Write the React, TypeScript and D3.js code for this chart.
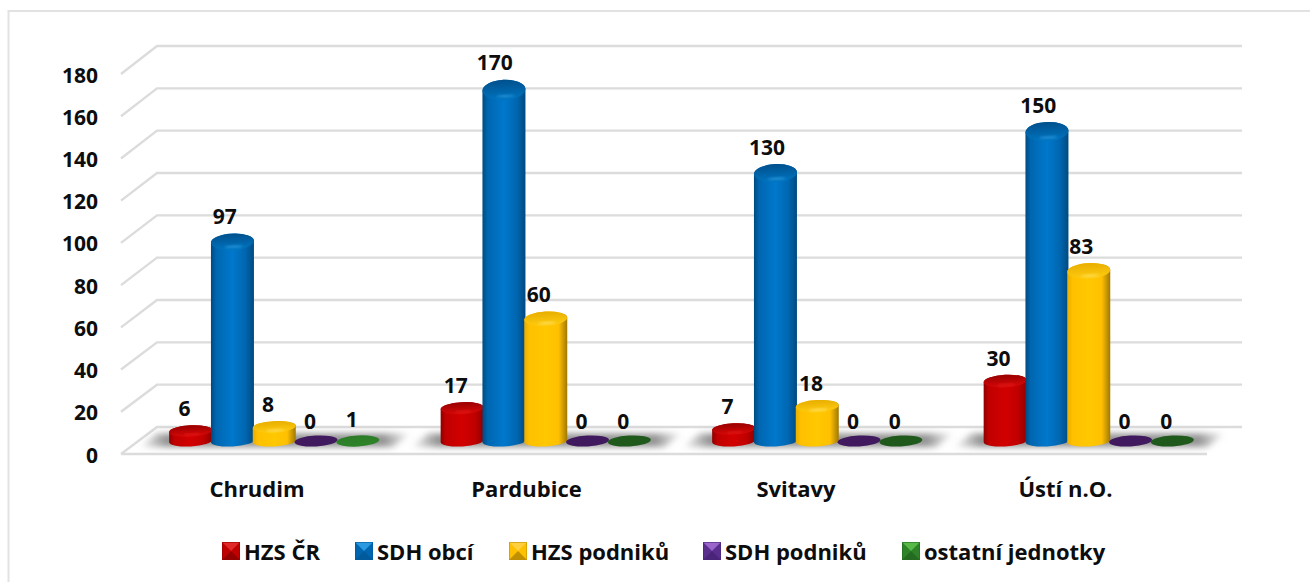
import React from "react";
import * as d3 from "d3";

const categories = ["Chrudim", "Pardubice", "Svitavy", "Ústí n.O."];
const seriesNames = ["HZS ČR", "SDH obcí", "HZS podniků", "SDH podniků", "ostatní jednotky"];
const hzsCr = [6, 17, 7, 30];
const sdhObci = [97, 170, 130, 150];
const hzsPodniku = [8, 60, 18, 83];
const sdhPodniku = [0, 0, 0, 0];
const ostatni = [1, 0, 0, 0];
const seriesValues = [hzsCr, sdhObci, hzsPodniku, sdhPodniku, ostatni];
const yTicks = d3.range(0, 181, 20);

const palette = [
  { edge: "#8f0000", base: "#c00000", light: "#d20000", topA: "#980000", topB: "#d80808", flat: "#a00000", hi: "#e01818", lg: "#e02828", ld: "#940000" },
  { edge: "#004a80", base: "#0066b0", light: "#0078cc", topA: "#00508c", topB: "#0074c0", flat: "#0060a0", hi: "#2a98e0", lg: "#2c9ae0", ld: "#005a9c" },
  { edge: "#a07800", base: "#ffc000", light: "#ffc800", topA: "#e8ae00", topB: "#ffcc10", flat: "#e0a800", hi: "#ffe060", lg: "#ffd040", ld: "#c09000" },
  { edge: "#2c1248", base: "#5a2e8c", light: "#4a2070", topA: "#40195f", topB: "#40195f", flat: "#40195f", hi: "#40195f", lg: "#9a66cc", ld: "#4a2478" },
  { edge: "#1c5018", base: "#2e8228", light: "#36902e", topA: "#2c7c28", topB: "#2e8428", flat: "#1f5a1c", hi: "#2e8428", lg: "#58b848", ld: "#246a20" },
];

const TILT = -3;

function cyl(cx: number, yTop: number, yBase: number, rx: number, ryT: number, ryB: number) {
  const t = rx * Math.sin((Math.abs(TILT) * Math.PI) / 180);
  return `M${cx - rx},${yTop + t} L${cx - rx},${yBase + t} A${rx},${ryB} ${TILT} 0 0 ${cx + rx},${yBase - t} L${cx + rx},${yTop - t} A${rx},${ryT} ${TILT} 0 0 ${cx - rx},${yTop + t} Z`;
}

export default function App() {
  const xFront = d3.scaleBand<string>().domain(categories).range([121, 1207]);
  const xLabel = d3.scaleBand<string>().domain(categories).range([122.25, 1200.25]);
  const yFront = d3.scaleLinear().domain([0, 180]).range([454, 74]);
  const yBack = d3.scaleLinear().domain([0, 180]).range([427, 46]);
  const yTop = d3.scaleLinear().domain([0, 180]).range([443.5, 443.5 - 180 * 2.08]);
  const yFloor = 441;
  const inner = d3.scaleBand<number>().domain(d3.range(seriesNames.length)).range([-104.5, 104.5]);
  const depthShift = 17.5;
  const font = "'Open Sans', Calibri, sans-serif";
  const ink = "#0d0d0d";
  const legendX = [222, 355, 509, 703, 902];

  const lineColor = "#dcdcdc";
  return (
    <svg width={1310} height={582} style={{ position: "absolute", left: 0, top: 0, background: "#fff" }} fontFamily={font} fontWeight={700}>
      <defs>
        <filter id="blur" x="-10%" y="-60%" width="120%" height="220%">
          <feGaussianBlur stdDeviation="3" />
        </filter>
        <filter id="soft" x="-50%" y="-200%" width="200%" height="500%">
          <feGaussianBlur stdDeviation="1.2" />
        </filter>
        <linearGradient id="floorFade" x1="0" x2="1" y1="0" y2="0">
          <stop offset="0" stopColor="#808080" stopOpacity={0} />
          <stop offset="0.1" stopColor="#808080" stopOpacity={0.85} />
          <stop offset="0.9" stopColor="#808080" stopOpacity={0.85} />
          <stop offset="1" stopColor="#808080" stopOpacity={0} />
        </linearGradient>
        {palette.map((p, i) => (
          <React.Fragment key={i}>
            <linearGradient id={`body${i}`} x1="0" x2="1" y1="0" y2="0">
              <stop offset="0" stopColor={i === 2 ? "#e8ae00" : p.edge} />
              <stop offset="0.12" stopColor={i === 2 ? "#ffc000" : p.base} />
              <stop offset="0.5" stopColor={p.light} />
              <stop offset="0.8" stopColor={p.base} />
              <stop offset="1" stopColor={p.edge} />
            </linearGradient>
            <linearGradient id={`top${i}`} x1="0" x2="0" y1="0" y2="1">
              <stop offset="0" stopColor={p.topA} />
              <stop offset="1" stopColor={p.topB} />
            </linearGradient>
          </React.Fragment>
        ))}
      </defs>

      {/* outer chart frame */}
      <path d="M8.5,582 L8.5,11 L1310,11" fill="none" stroke="#e2e2e2" strokeWidth={2} />

      {/* grid: side wall and back wall */}
      {yTicks.map((t) => (
        <path
          key={t}
          d={`M121,${yFront(t)} L157,${yBack(t)} L1242,${yBack(t)}`}
          fill="none"
          stroke={lineColor}
          strokeWidth={2.4}
        />
      ))}
      <line x1={121} x2={1207} y1={yFront(0)} y2={yFront(0)} stroke={lineColor} strokeWidth={2.4} />

      {/* floor shadows */}
      {categories.map((c) => {
        const x0 = xFront(c)!;
        return (
          <path
            key={c}
            d={`M${x0 + 18},447 L${x0 + 36},433.5 L${x0 + 290},433.5 L${x0 + 272},447 Z`}
            fill="url(#floorFade)"
            filter="url(#blur)"
          />
        );
      })}

      {/* cylinders */}
      {categories.map((c, ci) => {
        const center = xFront(c)! + xFront.bandwidth() / 2 + depthShift;
        return (
          <g key={c}>
            {seriesValues.map((vals, si) => {
              const v = vals[ci];
              const cx = center + inner(si)! + inner.bandwidth() / 2;
              const rx = 21.5;
              const ryB = 5.5;
              const flat = v <= 1;
              const ryT = 5.5 + v * 0.027;
              const yt = flat ? yFloor : yTop(v);
              const p = palette[si];
              return (
                <g key={si}>
                  {!flat && <path d={cyl(cx, yt, yFloor, rx, ryT, ryB)} fill={`url(#body${si})`} />}
                  <ellipse
                    cx={cx}
                    cy={yt}
                    rx={rx}
                    ry={ryT}
                    transform={`rotate(${TILT} ${cx} ${yt})`}
                    fill={v === 0 ? p.flat : `url(#top${si})`}
                  />
                  {!flat && (
                    <ellipse
                      cx={cx + 1}
                      cy={yt + ryT * 0.62}
                      rx={rx * 0.42}
                      ry={1}
                      fill={p.hi}
                      filter="url(#soft)"
                      transform={`rotate(${TILT} ${cx} ${yt})`}
                    />
                  )}
                </g>
              );
            })}
          </g>
        );
      })}

      {/* value labels */}
      {categories.map((c, ci) => {
        const center = xFront(c)! + xFront.bandwidth() / 2 + depthShift;
        return seriesValues.map((vals, si) => {
          const v = vals[ci];
          const cx = center + inner(si)! + inner.bandwidth() / 2;
          return (
            <text
              key={`${c}${si}`}
              x={cx - 6 - v * 0.018}
              y={yTop(v) - 22 - v * 0.03 - 0.5}
              textAnchor="middle"
              dominantBaseline="central"
              fontSize={21}
              fill={ink}
            >
              {v}
            </text>
          );
        });
      })}

      {/* y axis labels */}
      {yTicks.map((t) => (
        <text key={t} x={98} y={yFront(t) + 0.5} textAnchor="end" dominantBaseline="central" fontSize={21} fill={ink}>
          {t}
        </text>
      ))}

      {/* category labels */}
      {categories.map((c) => (
        <text
          key={c}
          x={xLabel(c)! + xLabel.bandwidth() / 2}
          y={488}
          textAnchor="middle"
          dominantBaseline="central"
          fontSize={22}
          fill={ink}
        >
          {c}
        </text>
      ))}

      {/* legend */}
      {seriesNames.map((n, i) => {
        const x = legendX[i];
        const s = 18;
        const y = 542;
        const p = palette[i];
        const cxm = x + s / 2;
        const cym = y + s / 2;
        return (
          <g key={n}>
            <rect x={x} y={y} width={s} height={s} fill={p.base} />
            <path d={`M${x},${y} L${x + s},${y} L${cxm},${cym} Z`} fill={p.lg} />
            <path d={`M${x},${y + s} L${x + s},${y + s} L${cxm},${cym} Z`} fill={p.ld} />
            <rect x={x + 0.5} y={y + 0.5} width={s - 1} height={s - 1} fill="none" stroke={p.ld} strokeOpacity={0.6} />
            <text x={x + s + 4} y={y + s / 2 - 0.5} dominantBaseline="central" fontSize={22} fill={ink}>
              {n}
            </text>
          </g>
        );
      })}
    </svg>
  );
}
